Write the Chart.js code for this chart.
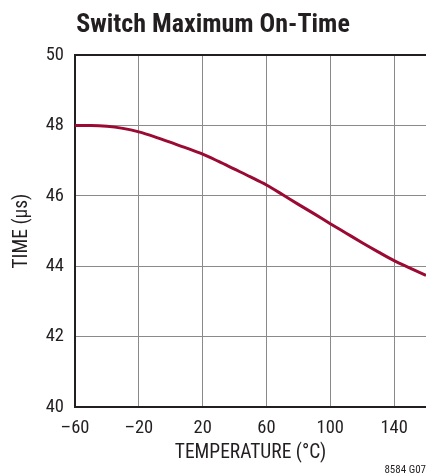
<!DOCTYPE html>
<html>
<head>
<meta charset="utf-8">
<script src="https://cdn.jsdelivr.net/npm/chart.js@4/dist/chart.umd.min.js"></script>
<style>
  html, body { margin: 0; padding: 0; background: #fff; }
  #wrap { width: 426px; height: 473px; }
</style>
</head>
<body>
<div id="wrap"><canvas id="chart"></canvas></div>
<script>
// temperature (°C) and switch max on-time (µs)
const temps  = [-60, -50, -40, -30, -20, -10, 0, 10, 20, 30, 40, 50, 60, 70, 80, 90, 100, 110, 120, 130, 140, 150, 160];
const onTime = [48.0, 48.0, 47.98, 47.92, 47.82, 47.68, 47.52, 47.36, 47.19, 46.98, 46.76, 46.54, 46.31, 46.04, 45.76, 45.49, 45.21, 44.94, 44.67, 44.41, 44.16, 43.95, 43.74];

const xTicks = [-60, -20, 20, 60, 100, 140];
const yTicks = [40, 42, 44, 46, 48, 50];

// stretch keyword goes in the weight slot so chart.js passes it into ctx.font
const FONT = "'Roboto Condensed', 'Roboto', sans-serif";
const INK = '#231f20';
const GRID = '#8a8a8a';

const ctx = document.getElementById('chart');

const fmt = v => (v < 0 ? '\u2013' + Math.abs(v) : String(v));

new Chart(ctx, {
  type: 'line',
  data: {
    datasets: [{
      data: temps.map((t, i) => ({ x: t, y: onTime[i] })),
      borderColor: '#9a0a33',
      borderWidth: 3,
      pointRadius: 0,
      cubicInterpolationMode: 'monotone',
      fill: false
    }]
  },
  options: {
    responsive: true,
    maintainAspectRatio: false,
    animation: false,
    layout: { padding: 0 },
    plugins: {
      legend: { display: false },
      tooltip: { enabled: false },
      title: {
        display: true,
        text: 'Switch Maximum On-Time',
        color: INK,
        font: { family: FONT, size: 26, weight: 'condensed bold' },
        padding: { top: 10, bottom: 14 }
      },
      subtitle: {
        display: true,
        position: 'bottom',
        align: 'end',
        text: '8584 G07',
        color: INK,
        font: { family: FONT, size: 11, weight: 'condensed normal', lineHeight: 1 },
        padding: { top: 0, bottom: -3 }
      }
    },
    scales: {
      x: {
        type: 'linear',
        min: -60,
        max: 160,
        afterBuildTicks: s => { s.ticks = xTicks.map(v => ({ value: v })); },
        afterFit: s => { s.height = 58; },
        ticks: {
          color: INK,
          font: { family: FONT, size: 18.5, weight: 'condensed normal' },
          padding: 10,
          maxRotation: 0,
          callback: v => fmt(v)
        },
        grid: {
          drawTicks: false,
          color: c => (c.tick && c.tick.value === -60 ? 'rgba(0,0,0,0)' : GRID),
          lineWidth: 1
        },
        border: { color: INK, width: 2 },
        title: {
          display: true,
          text: 'TEMPERATURE (\u00b0C)',
          color: INK,
          font: { family: FONT, size: 19.5, weight: 'condensed normal' },
          padding: { top: 0, bottom: 0 }
        }
      },
      y: {
        min: 40,
        max: 50,
        afterBuildTicks: s => { s.ticks = yTicks.map(v => ({ value: v })); },
        afterFit: s => { s.width = 75; },
        ticks: {
          color: INK,
          font: { family: FONT, size: 18.5, weight: 'condensed normal' },
          padding: 11,
          callback: v => fmt(v)
        },
        grid: {
          drawTicks: false,
          color: c => {
            if (!c.tick) return GRID;
            if (c.tick.value === 50) return INK;
            if (c.tick.value === 40) return 'rgba(0,0,0,0)';
            return GRID;
          },
          lineWidth: c => (c.tick && c.tick.value === 50 ? 2 : 1)
        },
        border: { color: INK, width: 2 },
        title: {
          display: true,
          text: 'TIME (\u00b5s)',
          color: INK,
          font: { family: FONT, size: 19.5, weight: 'condensed normal' },
          padding: { top: 10, bottom: 0 }
        }
      }
    }
  }
});
</script>
</body>
</html>
